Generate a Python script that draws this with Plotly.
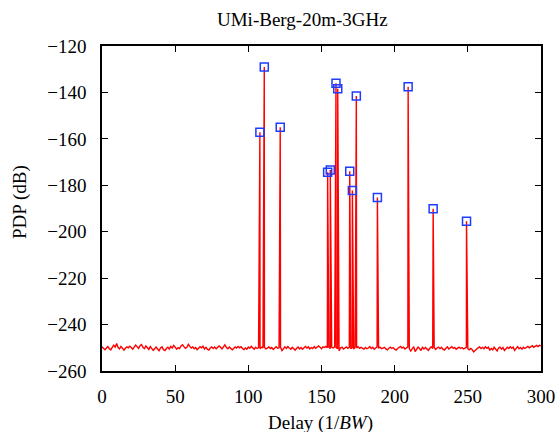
import plotly.graph_objects as go

# ---- data ----
noise_delay = list(range(301))
noise_pdp = [
    -249.6, -250.2, -250.8, -250.1, -249.5, -250.4, -250.9, -249.8, -248.9, -249.7,
    -248.2, -249.9, -250.5, -249.4, -250.3, -251.0, -250.2, -249.6, -250.0, -249.3,
    -249.9, -250.6, -249.7, -248.8, -249.5, -250.3, -249.1, -248.6, -249.8, -250.4,
    -249.2, -250.1, -250.7, -249.5, -250.2, -251.1, -250.4, -249.7, -250.5, -251.3,
    -250.1, -249.6, -250.8, -251.2, -250.3, -249.8, -250.5, -249.4, -250.1, -249.0,
    -249.7, -250.6, -249.9, -250.3, -249.2, -248.7, -249.5, -250.2, -249.8, -248.5,
    -249.4, -250.1, -249.6, -250.4, -249.9, -250.8, -250.2, -249.5, -250.0, -249.3,
    -250.5, -249.8, -250.6, -251.0, -250.1, -249.6, -250.3, -249.7, -250.4, -249.9,
    -249.2, -249.8, -250.5, -249.6, -248.7, -249.9, -250.4, -249.7, -250.2, -250.9,
    -250.3, -249.6, -250.1, -249.4, -250.0, -249.5, -250.3, -250.8, -250.1, -250.6,
    -249.7, -250.2, -249.4, -250.0, -250.6, -249.8, -250.3, -249.9, -250.4, -249.7,
    -250.1, -249.8, -250.5, -250.2, -249.6, -250.3, -249.9, -250.7, -250.1, -249.5,
    -250.2, -250.0, -249.7, -251.2, -250.4, -249.6, -250.3, -249.5, -250.1, -250.6,
    -249.8, -250.4, -251.0, -250.2, -249.7, -250.5, -249.9, -250.6, -250.0, -249.4,
    -250.1, -249.6, -250.5, -249.9, -250.3, -249.5, -250.2, -249.7, -249.2, -249.8,
    -250.4, -249.6, -249.9, -249.4, -250.0, -249.7, -250.3, -249.8, -250.1, -249.6,
    -249.9, -250.4, -251.3, -250.1, -249.7, -250.5, -250.0, -249.6, -250.2, -249.8,
    -250.4, -249.9, -250.6, -249.7, -250.1, -249.5, -250.2, -249.8, -250.3, -250.6,
    -249.9, -250.4, -250.1, -249.5, -250.3, -249.8, -250.6, -250.0, -249.6, -250.2,
    -249.7, -250.4, -250.1, -249.8, -250.5, -250.9, -250.2, -249.7, -250.3, -249.9,
    -250.6, -251.0, -250.3, -249.8, -249.4, -250.1, -249.7, -250.5, -250.0, -249.6,
    -250.3, -251.4, -250.2, -249.5, -251.6, -250.4, -249.7, -250.3, -251.2, -249.8,
    -250.5, -249.9, -250.4, -251.1, -250.2, -249.6, -250.3, -249.9, -250.7, -250.1,
    -249.7, -250.4, -249.8, -250.6, -251.0, -250.2, -249.6, -250.5, -250.0, -249.5,
    -250.2, -249.8, -250.6, -250.1, -249.7, -250.3, -249.9, -250.5, -250.2, -249.8,
    -250.4, -250.9, -250.3, -250.8, -251.8, -251.2, -250.5, -250.0, -249.6, -250.3,
    -249.8, -250.4, -249.6, -250.2, -249.7, -251.0, -250.3, -250.9, -249.8, -250.5,
    -251.4, -250.1, -249.7, -250.6, -249.9, -251.2, -250.4, -249.8, -250.3, -249.6,
    -250.2, -249.7, -251.1, -250.0, -249.5, -250.4, -249.9, -250.6, -249.8, -250.3,
    -249.7, -249.4, -250.0, -249.6, -249.1, -249.8, -249.3, -249.0, -249.5, -248.9,
    -249.2,
]
peak_delay = [107.9, 110.9, 121.8, 154.2, 156.0, 159.9, 161.1, 169.3, 171.1, 173.8,
              188.2, 209.2, 226.3, 249.1]
peak_pdp = [-157.2, -129.1, -155.0, -174.4, -173.4, -136.0, -138.4, -174.0, -182.2,
            -141.5, -185.3, -137.5, -190.1, -195.5]

x_ticks = [0, 50, 100, 150, 200, 250, 300]
y_ticks = [-120, -140, -160, -180, -200, -220, -240, -260]
title_text = "UMi-Berg-20m-3GHz"

# merge noise floor and peaks into one sorted trace
pts = sorted(list(zip(noise_delay, noise_pdp)) + list(zip(peak_delay, peak_pdp)))
line_x = [p[0] for p in pts]
line_y = [p[1] for p in pts]

FONT = "Times New Roman"

W, H = 556, 432
ML, MR, MT, MB = 102, 15, 46, 61

fig = go.Figure()
fig.add_trace(go.Scatter(x=line_x, y=line_y, mode="lines",
                         line=dict(color="rgb(255,0,0)", width=1.4),
                         hoverinfo="skip", showlegend=False))
fig.add_trace(go.Scatter(x=peak_delay, y=peak_pdp, mode="markers",
                         marker=dict(symbol="square-open", size=8,
                                     color="rgb(30,60,255)",
                                     line=dict(width=1.5, color="rgb(30,60,255)")),
                         showlegend=False))

axis_common = dict(showline=True, linecolor="black", linewidth=1.5,
                   mirror="ticks", ticks="inside", ticklen=6, tickwidth=1,
                   tickcolor="black", showgrid=False, zeroline=False,
                   automargin=False,
                   tickfont=dict(family=FONT, size=19, color="black"))

pw = W - ML - MR
ph = H - MT - MB

fig.update_layout(
    width=W, height=H,
    margin=dict(l=ML, r=MR, t=MT, b=MB, pad=0),
    paper_bgcolor="white", plot_bgcolor="white",
    font=dict(family=FONT, size=19, color="black"),
    xaxis=dict(range=[0, 300], tickvals=x_ticks, ticklabelstandoff=7, **axis_common),
    yaxis=dict(range=[-260, -120], tickvals=y_ticks,
               ticktext=[str(v).replace("-", "\u2212") for v in y_ticks],
               ticklabelstandoff=10, **axis_common),
    annotations=[
        dict(text=title_text, x=(302 - ML) / pw, y=1 + (MT - 20) / ph,
             xref="paper", yref="paper", xanchor="center", yanchor="middle",
             showarrow=False, font=dict(family=FONT, size=19)),
        dict(text="Delay (1/<i>BW</i>)", x=(320 - ML) / pw, y=-(423 - MT - ph) / ph,
             xref="paper", yref="paper",
             xanchor="center", yanchor="middle", showarrow=False,
             font=dict(family=FONT, size=19)),
        dict(text="PDP (dB)", x=-(ML - 20) / pw, y=1 - (202 - MT) / ph,
             xref="paper", yref="paper",
             xanchor="center", yanchor="middle", textangle=-90, showarrow=False,
             font=dict(family=FONT, size=19)),
    ],
)

fig.write_html("out.html", config={"displayModeBar": False},
               post_script="document.body.style.margin='0';document.body.style.overflow='hidden';")
